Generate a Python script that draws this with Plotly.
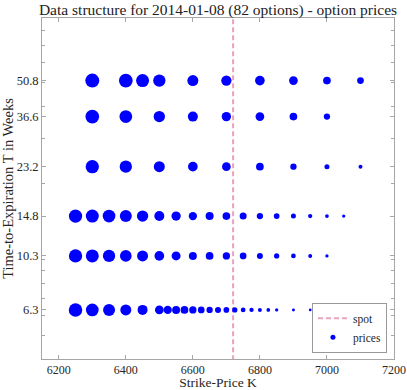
import numpy as np
import plotly.graph_objects as go

# maturities (weeks) and strikes per maturity
weeks = [6.3, 10.3, 14.8, 23.2, 36.6, 50.8]

strikes_6 = [6250, 6300, 6350, 6400, 6450, 6500, 6525, 6550, 6575, 6600, 6625,
             6650, 6675, 6700, 6725, 6750, 6775, 6800, 6825, 6850, 6900, 6950]
prices_6 = [492, 435, 389, 327, 270, 204, 186, 173, 160, 144, 121,
            107, 97, 88, 76, 60, 50, 43, 37, 29, 24, 20]

strikes_10 = [6250, 6300, 6350, 6400, 6450, 6500, 6550, 6600, 6650, 6700, 6750,
              6800, 6850, 6900, 6950, 7000]
prices_10 = [478, 456, 408, 370, 327, 254, 219, 173, 160, 144, 121,
             97, 76, 60, 43, 29]

strikes_14 = [6250, 6300, 6350, 6400, 6450, 6500, 6550, 6600, 6650, 6700, 6750,
              6800, 6850, 6900, 6950, 7000, 7050]
prices_14 = [478, 456, 435, 389, 345, 270, 234, 186, 173, 160, 132,
             107, 88, 68, 50, 37, 29]

strikes_23 = [6300, 6400, 6500, 6600, 6700, 6800, 6900, 7000, 7100]
prices_23 = [478, 408, 327, 254, 204, 160, 107, 68, 43]

strikes_36 = [6300, 6400, 6500, 6600, 6700, 6800, 6900, 7000]
prices_36 = [507, 435, 345, 270, 234, 204, 160, 107]

strikes_50 = [6300, 6400, 6450, 6500, 6600, 6700, 6800, 6900, 7000, 7100]
prices_50 = [529, 507, 456, 408, 327, 286, 254, 204, 160, 121]

spot = 6720
x_ticks = [6200, 6400, 6600, 6800, 7000, 7200]
y_minor = [5, 6, 7, 8, 9, 10, 20, 30, 40, 50, 60, 70, 80]

all_strikes = [strikes_6, strikes_10, strikes_14, strikes_23, strikes_36, strikes_50]
all_prices = [prices_6, prices_10, prices_14, prices_23, prices_36, prices_50]

xs, ys, ps = [], [], []
for w, ks, pr in zip(weeks, all_strikes, all_prices):
    xs += ks
    ys += [w] * len(ks)
    ps += pr

font = "Liberation Serif"
axis_col = "#a6a6a6"
blue = "#0000ff"

fig = go.Figure()
fig.add_trace(go.Scatter(
    x=[spot, spot], y=[1, 1000], mode="lines", name="spot",
    line=dict(color="#eba3bd", width=2, dash="5px,3px"),
))
fig.add_trace(go.Scatter(
    x=xs, y=ys, mode="markers", name="prices", showlegend=False,
    marker=dict(size=ps, sizemode="area", sizeref=5.4, color=blue,
                opacity=1, line=dict(width=0)),
))
# legend entry only
fig.add_trace(go.Scatter(
    x=[None], y=[None], mode="markers", name="prices",
    marker=dict(size=5, color=blue),
))

fig.update_layout(
    width=407, height=390,
    margin=dict(l=42, r=13, t=18, b=31),
    paper_bgcolor="white", plot_bgcolor="white",
    font=dict(family=font, size=12.5, color="#262626"),
    title=dict(text="Data structure for 2014-01-08 (82 options) - option prices",
               x=0.5, xref="paper", xanchor="center",
               y=1, yref="paper", yanchor="bottom", pad=dict(b=3),
               font=dict(family=font, size=15.5, color="#222222")),
    legend=dict(x=0.98, y=0.018, xanchor="right", yanchor="bottom",
                bgcolor="white", bordercolor="#999999", borderwidth=1,
                font=dict(size=11.5), itemwidth=30, tracegroupgap=0),
    showlegend=True,
)
fig.update_xaxes(
    range=[6150, 7200], tickvals=x_ticks, ticks="inside", ticklen=4,
    tickcolor=axis_col, showline=True, linecolor=axis_col, linewidth=1,
    mirror="ticks", showgrid=False, zeroline=False, ticklabeloverflow="allow",
    tickfont=dict(size=12),
    title=dict(text="Strike-Price K", standoff=2, font=dict(size=13.5)),
    automargin=False,
)
fig.update_yaxes(
    type="log", range=[np.log10(4.03), np.log10(89.8)],
    tickvals=weeks, ticktext=[str(w) for w in weeks],
    ticks="inside", ticklen=4, tickcolor=axis_col,
    minor=dict(tickvals=y_minor, ticks="inside", ticklen=3, tickcolor=axis_col),
    showline=True, linecolor=axis_col, linewidth=1,
    mirror="ticks", showgrid=False, zeroline=False,
    title=dict(text="Time-to-Expiration T in Weeks", standoff=1, font=dict(size=14.5)),
    automargin=False,
)

# page body has a default margin; drop it so the figure sits at the corner
fig.write_html("out.html", config={"displayModeBar": False},
               post_script="document.body.style.margin='0';")
